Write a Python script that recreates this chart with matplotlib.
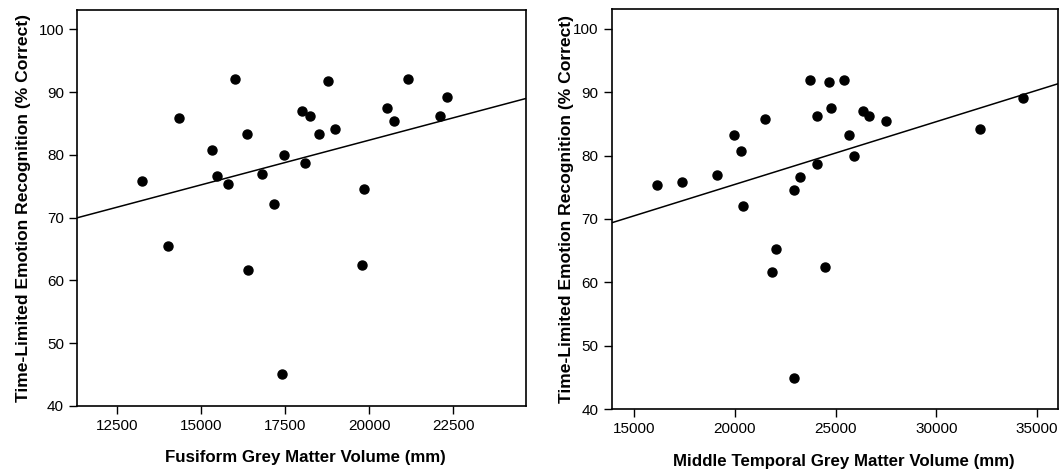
import numpy as np
import matplotlib
matplotlib.use("Agg")
import matplotlib.pyplot as plt

plt.rcParams['font.family'] = ['Liberation Sans', 'DejaVu Sans']

# fusiform grey matter volume vs score
fusiform_vol = [13243, 14035, 14361, 15342, 15490, 15797, 16015, 16371, 16401, 16817,
                17163, 17401, 17480, 18005, 18094, 18252, 18520, 18777, 18975, 19797,
                19847, 20530, 20738, 21163, 22104, 22302]
fusiform_score = [75.8, 65.4, 85.8, 80.8, 76.7, 75.4, 92.1, 83.3, 61.7, 77.0,
                  72.1, 45.0, 80.0, 87.0, 78.7, 86.2, 83.3, 91.7, 84.2, 62.5,
                  74.5, 87.5, 85.4, 92.1, 86.2, 89.2]

# middle temporal grey matter volume vs score
temporal_vol = [16161, 17388, 19096, 19942, 20323, 20423, 21501, 21833, 22048, 22960,
                22927, 23259, 23740, 24055, 24088, 24469, 24685, 24768, 25431, 25680,
                25896, 26377, 26659, 27504, 32148, 34287]
temporal_score = [75.3, 75.8, 77.0, 83.3, 80.8, 72.0, 85.8, 61.6, 65.3, 74.6,
                  44.9, 76.6, 92.0, 78.7, 86.2, 62.4, 91.6, 87.5, 92.0, 83.3,
                  79.9, 87.0, 86.2, 85.4, 84.2, 89.1]

fig = plt.figure(figsize=(10.59, 4.71), dpi=100)
ax1 = fig.add_axes([0.073, 0.1386, 0.4234, 0.8402])
ax2 = fig.add_axes([0.5776, 0.1316, 0.4219, 0.8487])

panels = [
    (ax1, fusiform_vol, fusiform_score, (11330, 24650),
     [12500, 15000, 17500, 20000, 22500], 'Fusiform Grey Matter Volume (mm)', -0.103, 0.508),
    (ax2, temporal_vol, temporal_score, (13890, 36060),
     [15000, 20000, 25000, 30000, 35000], 'Middle Temporal Grey Matter Volume (mm)', -0.084, 0.52),
]

for ax, xs, ys, xlim, xticks, xlabel, ylab_x, xlab_x in panels:
    ax.plot(xs, ys, 'o', color='black', markersize=6.5)
    # least-squares fit line
    slope, icpt = np.polyfit(xs, ys, 1)
    lx = np.array(xlim)
    ax.plot(lx, icpt + slope * lx, color='black', linewidth=1.1)
    ax.set_xlim(*xlim)
    ax.set_ylim(40, 103.1)
    ax.set_xticks(xticks)
    ax.set_yticks([40, 50, 60, 70, 80, 90, 100])
    ax.tick_params(axis='both', direction='out', length=6, width=1, labelsize=11,
                   top=False, right=False)
    for s in ax.spines.values():
        s.set_linewidth(1.2)
        s.set_color('black')
    ax.set_xlabel(xlabel, fontsize=12.2, fontweight='bold')
    ax.xaxis.set_label_coords(xlab_x, -0.113)
    ax.set_ylabel('Time-Limited Emotion Recognition (% Correct)', fontsize=12.6,
                  fontweight='bold')
    ax.yaxis.set_label_coords(ylab_x, 0.5)

fig.savefig('out.png', dpi=100)
